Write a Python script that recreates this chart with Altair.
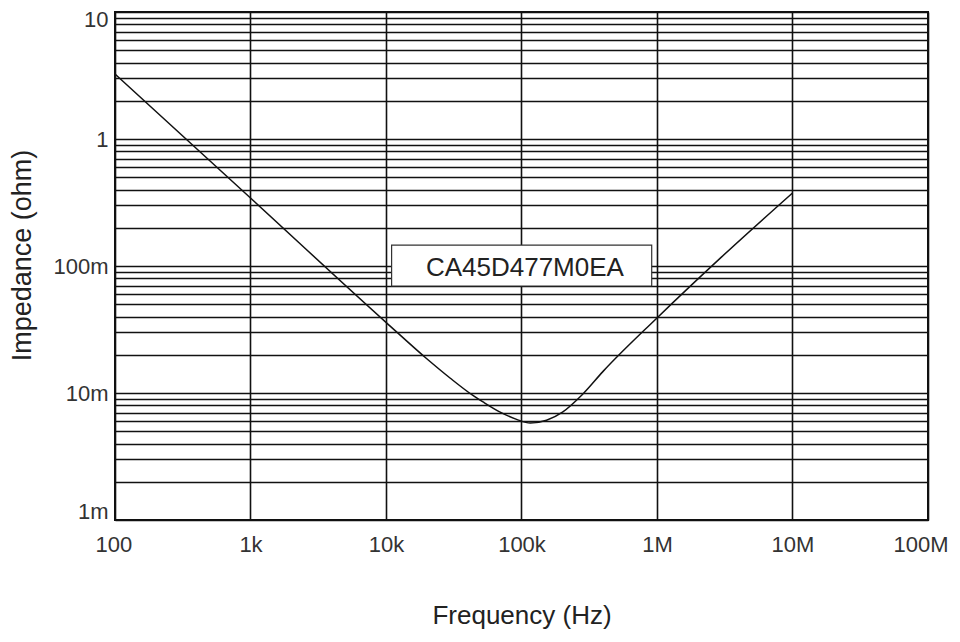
import altair as alt
import pandas as pd

# Impedance curve
freq_hz = [100, 1000, 10000, 20000, 30000, 43000, 52000, 69000, 92000, 116000,
           153000, 202000, 278000, 400000, 1000000, 3000000, 10000000]
impedance_ohm = [3.25, 0.343, 0.036, 0.0186, 0.0130, 0.0097, 0.0085, 0.0071,
                 0.0062, 0.0058, 0.0061, 0.0071, 0.0096, 0.0148, 0.039,
                 0.118, 0.376]

# Axis ticks
x_ticks = [100, 1000, 10000, 100000, 1000000, 10000000, 100000000]
y_mantissas = [1, 2, 3, 4, 5, 6, 7, 8, 9]
y_decades = [-3, -2, -1, 0]
y_ticks = [m * 10 ** e for e in y_decades for m in y_mantissas] + [10]

# Part-number label box (data coordinates)
label_text = ["CA45D477M0EA"]
label_x = [106000]
label_y = [0.0964]
box_x = [11000]
box_x2 = [914000]
box_y = [0.1462]
box_y2 = [0.0696]

FONT = "Liberation Sans"

curve_df = pd.DataFrame({"f": freq_hz, "z": impedance_ohm})
box_df = pd.DataFrame({"x": box_x, "x2": box_x2, "y": box_y, "y2": box_y2})
label_df = pd.DataFrame({"x": label_x, "y": label_y, "t": label_text})

xscale = alt.Scale(type="log", domain=[100, 100000000])
yscale = alt.Scale(type="log", domain=[0.001, 10])

x_label_expr = ("datum.value >= 1e6 ? format(datum.value/1e6,'d') + 'M' : "
                "datum.value >= 1e3 ? format(datum.value/1e3,'d') + 'k' : "
                "format(datum.value,'d')")
y_label_expr = ("datum.value == 10 ? '10' : datum.value == 1 ? '1' : "
                "datum.value == 0.1 ? '100m' : datum.value == 0.01 ? '10m' : "
                "datum.value == 0.001 ? '1m' : ''")

x_axis = alt.Axis(
    values=x_ticks, labelExpr=x_label_expr, grid=True, ticks=False, domain=False,
    labelFlush=True, labelFlushOffset=20, labelOverlap=False, labelFontSize=22,
    labelPadding=14, labelFont=FONT, labelColor="#333",
    title="Frequency (Hz)", titleFont=FONT, titleFontSize=26,
    titleFontWeight="normal", titleColor="#222", titleY=103,
    titleBaseline="alphabetic",
)
y_axis = alt.Axis(
    values=y_ticks, labelExpr=y_label_expr, grid=True, ticks=False, domain=False,
    labelFlush=True, labelFlushOffset=3, labelOverlap=False, labelFontSize=22,
    labelPadding=7, labelFont=FONT, labelColor="#333",
    title="Impedance (ohm)", titleFont=FONT, titleFontSize=27,
    titleFontWeight="normal", titleColor="#222", titleX=-85, titleY=243,
    titleAngle=270, titleAlign="center", titleBaseline="alphabetic",
)

curve = alt.Chart(curve_df).mark_line(
    color="#111", strokeWidth=1.5, interpolate="monotone"
).encode(
    x=alt.X("f:Q", scale=xscale, axis=x_axis),
    y=alt.Y("z:Q", scale=yscale, axis=y_axis),
)

box = alt.Chart(box_df).mark_rect(
    fill="white", stroke="#333", strokeWidth=1.2
).encode(
    x=alt.X("x:Q", scale=xscale),
    x2="x2:Q",
    y=alt.Y("y:Q", scale=yscale),
    y2="y2:Q",
)

label = alt.Chart(label_df).mark_text(
    font=FONT, fontSize=26, color="#222", align="center", baseline="middle"
).encode(
    x=alt.X("x:Q", scale=xscale),
    y=alt.Y("y:Q", scale=yscale),
    text="t:N",
)

chart = alt.layer(curve, box, label).properties(
    width=813, height=508,
    autosize=alt.AutoSizeParams(type="none"),
    padding={"left": 107, "top": 4, "right": 24, "bottom": 110},
).configure_view(
    stroke="#111", strokeWidth=2
).configure_axis(
    gridColor="#111", gridWidth=1.6, gridOpacity=1
)

chart.save("out.html", embed_options={"renderer": "svg", "actions": False})
